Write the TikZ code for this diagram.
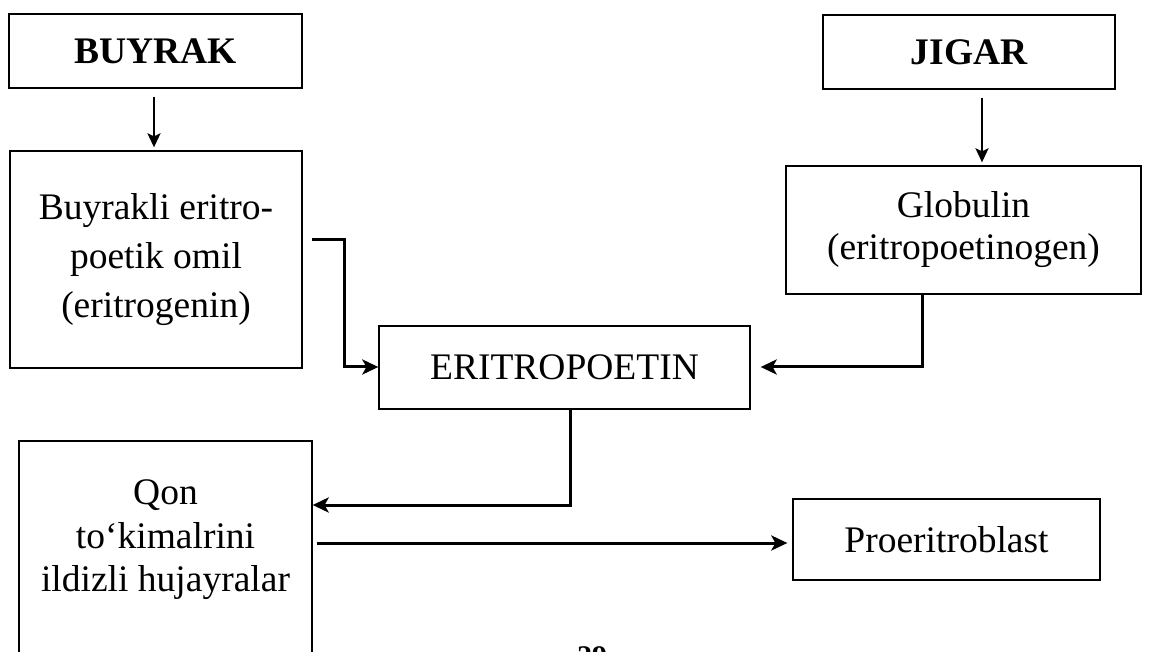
\documentclass[tikz,border=0pt]{standalone}
\usepackage{fontspec}
\setmainfont{Liberation Serif}
\usetikzlibrary{arrows.meta,calc}
\begin{document}
\begin{tikzpicture}[x=1pt,y=-1pt,
  box/.style={draw,line width=1.3pt,inner sep=0pt,align=center,
    font=\fontsize{37.5}{49}\selectfont},
  tbox/.style={box,font=\fontsize{37.5}{49}\bfseries\selectfont},
  conn/.style={line width=3pt,-{Stealth[length=16pt,width=15pt,inset=4pt]}},
  down/.style={line width=2.2pt,-{Stealth[length=14pt,width=13pt,inset=3pt]}},
  txt/.style={inner sep=0pt,align=center}]
\useasboundingbox (0,0) rectangle (1152,652);
\fill[white] (0,0) rectangle (1152,652);
% boxes
\node[tbox,minimum width=293pt,minimum height=74pt] (buyrak) at (155.5,51) {BUYRAK};
\node[tbox,minimum width=292pt,minimum height=74pt] (jigar) at (969,52) {JIGAR};
\node[box,minimum width=292pt,minimum height=217pt] (omil) at (156,259.5)
  {Buyrakli eritro-\\poetik omil\\(eritrogenin)};
\node[box,minimum width=355pt,minimum height=128pt,font=\fontsize{37.5}{42}\selectfont] (glob) at (963.5,230)
  {Globulin\\(eritropoetinogen)};
\node[box,minimum width=371pt,minimum height=83pt] (erit) at (564.5,367.5) {ERITROPOETIN};
\node[box,minimum width=293pt,minimum height=260pt] (qon) at (165.5,571) {};
\node[txt,font=\fontsize{37.5}{43.5}\selectfont] (qont) at (165.5,540) {Qon\\to‘kimalrini\\ildizli hujayralar};
\node[box,minimum width=307pt,minimum height=81pt] (pro) at (946.5,539.5) {Proeritroblast};
\node[inner sep=0pt,anchor=north,font=\fontsize{30}{30}\bfseries\selectfont] (page) at (592,646) {29};
% connectors
\draw[down,shorten >=3pt,shorten <=8pt] (buyrak.south -| 154,0) -- (omil.north -| 154,0);
\draw[down,shorten >=3pt,shorten <=8pt] (jigar.south -| 982,0) -- (glob.north -| 982,0);
\draw[conn] ($(omil.east |- 0,240)+(9,0)$) -| (344,367) -- (erit.west |- 0,367);
\draw[conn] (glob.south -| 922,0) |- ($(erit.east |- 0,367)+(10,0)$);
\draw[conn] (erit.south -| 570,0) |- (qon.east |- 0,505);
\draw[conn,shorten >=5pt,shorten <=4pt] (qon.east |- 0,543) -- (pro.west |- 0,543);
\end{tikzpicture}
\end{document}
